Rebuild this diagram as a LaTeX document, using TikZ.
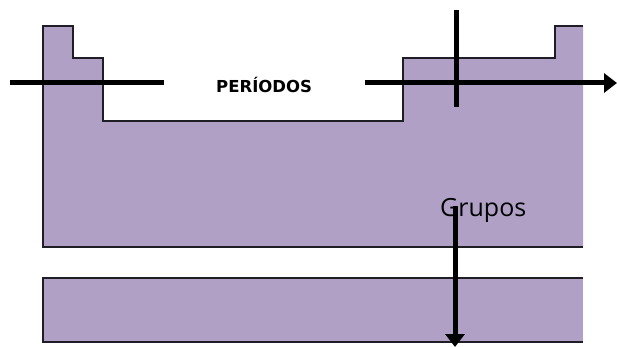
\documentclass[tikz,border=0pt]{standalone}
\usepackage{fontspec}
\setmainfont{DejaVu Sans}
\newfontfamily\labfont{Open Sans}
\usetikzlibrary{arrows.meta}
\definecolor{lav}{RGB}{176,160,198}
\definecolor{edge}{RGB}{30,30,36}
\tikzset{
  block/.style={fill=lav,draw=none},
  outline/.style={draw=edge,line width=1.5pt},
  axis/.style={draw=black,line width=5pt},
  axisarrow/.style={draw=black,line width=5pt,-{Triangle[length=13pt,width=19pt]}},
}
\begin{document}
\begin{tikzpicture}[x=1pt,y=-1pt]
\useasboundingbox (0,0) rectangle (617,347);
% main block
\path[block] (43,26)--(73,26)--(73,58)--(103,58)--(103,121)--(403,121)--(403,58)--(555,58)--(555,26)--(583,26)--(583,247)--(43,247)--cycle;
\draw[outline] (583,247)--(43,247)--(43,26)--(73,26)--(73,58)--(103,58)--(103,121)--(403,121)--(403,58)--(555,58)--(555,26)--(583,26);
% lower bar
\path[block] (43,278) rectangle (583,342);
\draw[outline] (583,278)--(43,278)--(43,342)--(583,342);
% labels
\node[font=\bfseries\fontsize{16.5}{19}\selectfont,anchor=base west,inner sep=0pt] (per) at (216,93) {PERÍODOS};
\node[font=\labfont\fontsize{25}{28}\selectfont,anchor=base west,inner sep=0pt] (gru) at (440,216) {Grupos};
% axes
\coordinate (hl1) at (10,83);
\coordinate (hl2) at (164,83);
\coordinate (ha1) at (365,83);
\coordinate (ha2) at (617,83);
\coordinate (vl1) at (456,10);
\coordinate (vl2) at (456,107);
\coordinate (va1) at (455,206);
\coordinate (va2) at (455,347);
\draw[axis] (hl1)--(hl2);
\draw[axisarrow] (ha1)--(ha2);
\draw[axis] (vl1)--(vl2);
\draw[axisarrow] (va1)--(va2);
\end{tikzpicture}
\end{document}
